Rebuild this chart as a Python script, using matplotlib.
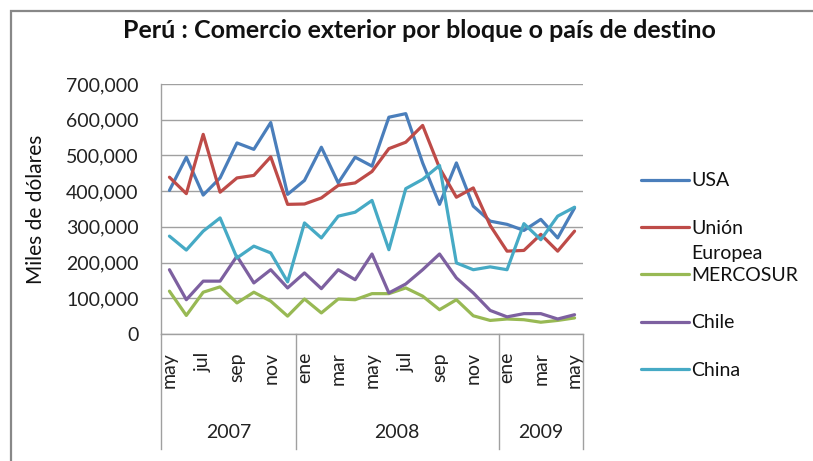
import matplotlib
matplotlib.use("Agg")
import matplotlib.pyplot as plt
from matplotlib.patches import Rectangle
from matplotlib.ticker import FuncFormatter

plt.rcParams['font.family'] = ['Lato', 'DejaVu Sans']

# ---- data (miles de dólares), mayo 2007 - mayo 2009 ----
months = ['may', 'jun', 'jul', 'ago', 'sep', 'oct', 'nov', 'dic',
          'ene', 'feb', 'mar', 'abr', 'may', 'jun', 'jul', 'ago', 'sep', 'oct', 'nov', 'dic',
          'ene', 'feb', 'mar', 'abr', 'may']
years = ['2007', '2008', '2009']
year_counts = [8, 12, 5]

usa = [402000, 495000, 389000, 437000, 535000, 517000, 592000, 391000,
       430000, 523000, 423000, 495000, 470000, 607000, 617000, 479000,
       363000, 479000, 358000, 316000, 307000, 290000, 321000, 269000, 353000]
ue = [439000, 393000, 559000, 397000, 437000, 444000, 496000, 363000,
      364000, 381000, 416000, 423000, 455000, 519000, 537000, 584000,
      465000, 383000, 409000, 304000, 232000, 234000, 279000, 232000, 288000]
mercosur = [120000, 52000, 117000, 132000, 87000, 117000, 92000, 50000,
            98000, 59000, 98000, 96000, 113000, 113000, 129000, 106000,
            68000, 96000, 51000, 38000, 42000, 40000, 33000, 38000, 45000]
chile = [180000, 96000, 148000, 148000, 218000, 143000, 180000, 129000,
         171000, 127000, 180000, 152000, 224000, 115000, 140000, 180000,
         224000, 157000, 115000, 66000, 48000, 57000, 57000, 42000, 54000]
china = [274000, 235000, 288000, 325000, 213000, 246000, 227000, 146000,
         311000, 269000, 330000, 341000, 374000, 236000, 407000, 433000,
         472000, 199000, 180000, 188000, 180000, 309000, 264000, 330000, 355000]

series = [('USA', usa, '#4A7EBB'),
          ('Unión', ue, '#BE4B48'),
          ('MERCOSUR', mercosur, '#98B954'),
          ('Chile', chile, '#7D60A0'),
          ('China', china, '#46AAC5')]

W, H = 813, 461
fig = plt.figure(figsize=(W / 100, H / 100), dpi=100)
ax = fig.add_axes([161 / W, 1 - 334 / H, (583 - 161) / W, (334 - 84) / H])

x = list(range(len(months)))
handles = []
for name, vals, col in series:
    ln, = ax.plot(x, vals, color=col, lw=2.3, solid_capstyle='round', solid_joinstyle='round')
    handles.append(ln)

ax.set_xlim(-0.5, len(months) - 0.5)
ax.set_ylim(0, 700000)
ax.set_yticks(range(0, 700001, 100000))
ax.yaxis.set_major_formatter(FuncFormatter(lambda v, p: f'{int(v):,}'))
ax.grid(axis='y', color='#A0A0A0', lw=1.0)
ax.set_axisbelow(True)
for s in ['top', 'right']:
    ax.spines[s].set_visible(False)
for s in ['left', 'bottom']:
    ax.spines[s].set_color('#A0A0A0')
    ax.spines[s].set_linewidth(1.0)
ax.tick_params(axis='y', length=0, pad=16, labelsize=14, labelcolor='#222222')

tick_idx = list(range(0, len(months), 2))
ax.set_xticks(tick_idx)
ax.set_xticklabels([months[i] for i in tick_idx], rotation=90)
ax.tick_params(axis='x', length=0, pad=13, labelsize=14, labelcolor='#222222')

# category (year) boxes
tr = ax.get_xaxis_transform()
bounds = [-0.5]
for c in year_counts:
    bounds.append(bounds[-1] + c)
for b in bounds:
    ax.plot([b, b], [0, -0.46], transform=tr, clip_on=False, color='#A0A0A0', lw=1.0)
for i, yr in enumerate(years):
    ax.text((bounds[i] + bounds[i + 1]) / 2, -0.392, yr, transform=tr,
            ha='center', va='center', fontsize=14, color='#222222')

# title and y label
fig.text(419 / W, 1 - 30 / H, 'Perú : Comercio exterior por bloque o país de destino',
         ha='center', va='center', fontsize=18, fontweight='bold', color='#111111')
fig.text(36 / W, 1 - 209 / H, 'Miles de dólares', rotation=90, ha='center', va='center',
         fontsize=15, color='#111111')

# legend
leg = ax.legend(handles, [s[0] for s in series], loc='center left',
                bbox_to_anchor=(641 / W, 1 - 275.5 / H), bbox_transform=fig.transFigure,
                frameon=False, borderpad=0, borderaxespad=0, fontsize=14,
                handlelength=2.45, handletextpad=0.15, labelspacing=1.56)
for t in leg.get_texts():
    t.set_color('#111111')
fig.text(691 / W, 1 - 253 / H, 'Europea', ha='left', va='center', fontsize=14, color='#111111')

# outer frame
fig.patches.append(Rectangle((11 / W, -0.1), 1.1, 1 - 11 / H + 0.1, transform=fig.transFigure,
                             fill=False, edgecolor='#888888', lw=1.6))

fig.savefig('out.png', dpi=100)
